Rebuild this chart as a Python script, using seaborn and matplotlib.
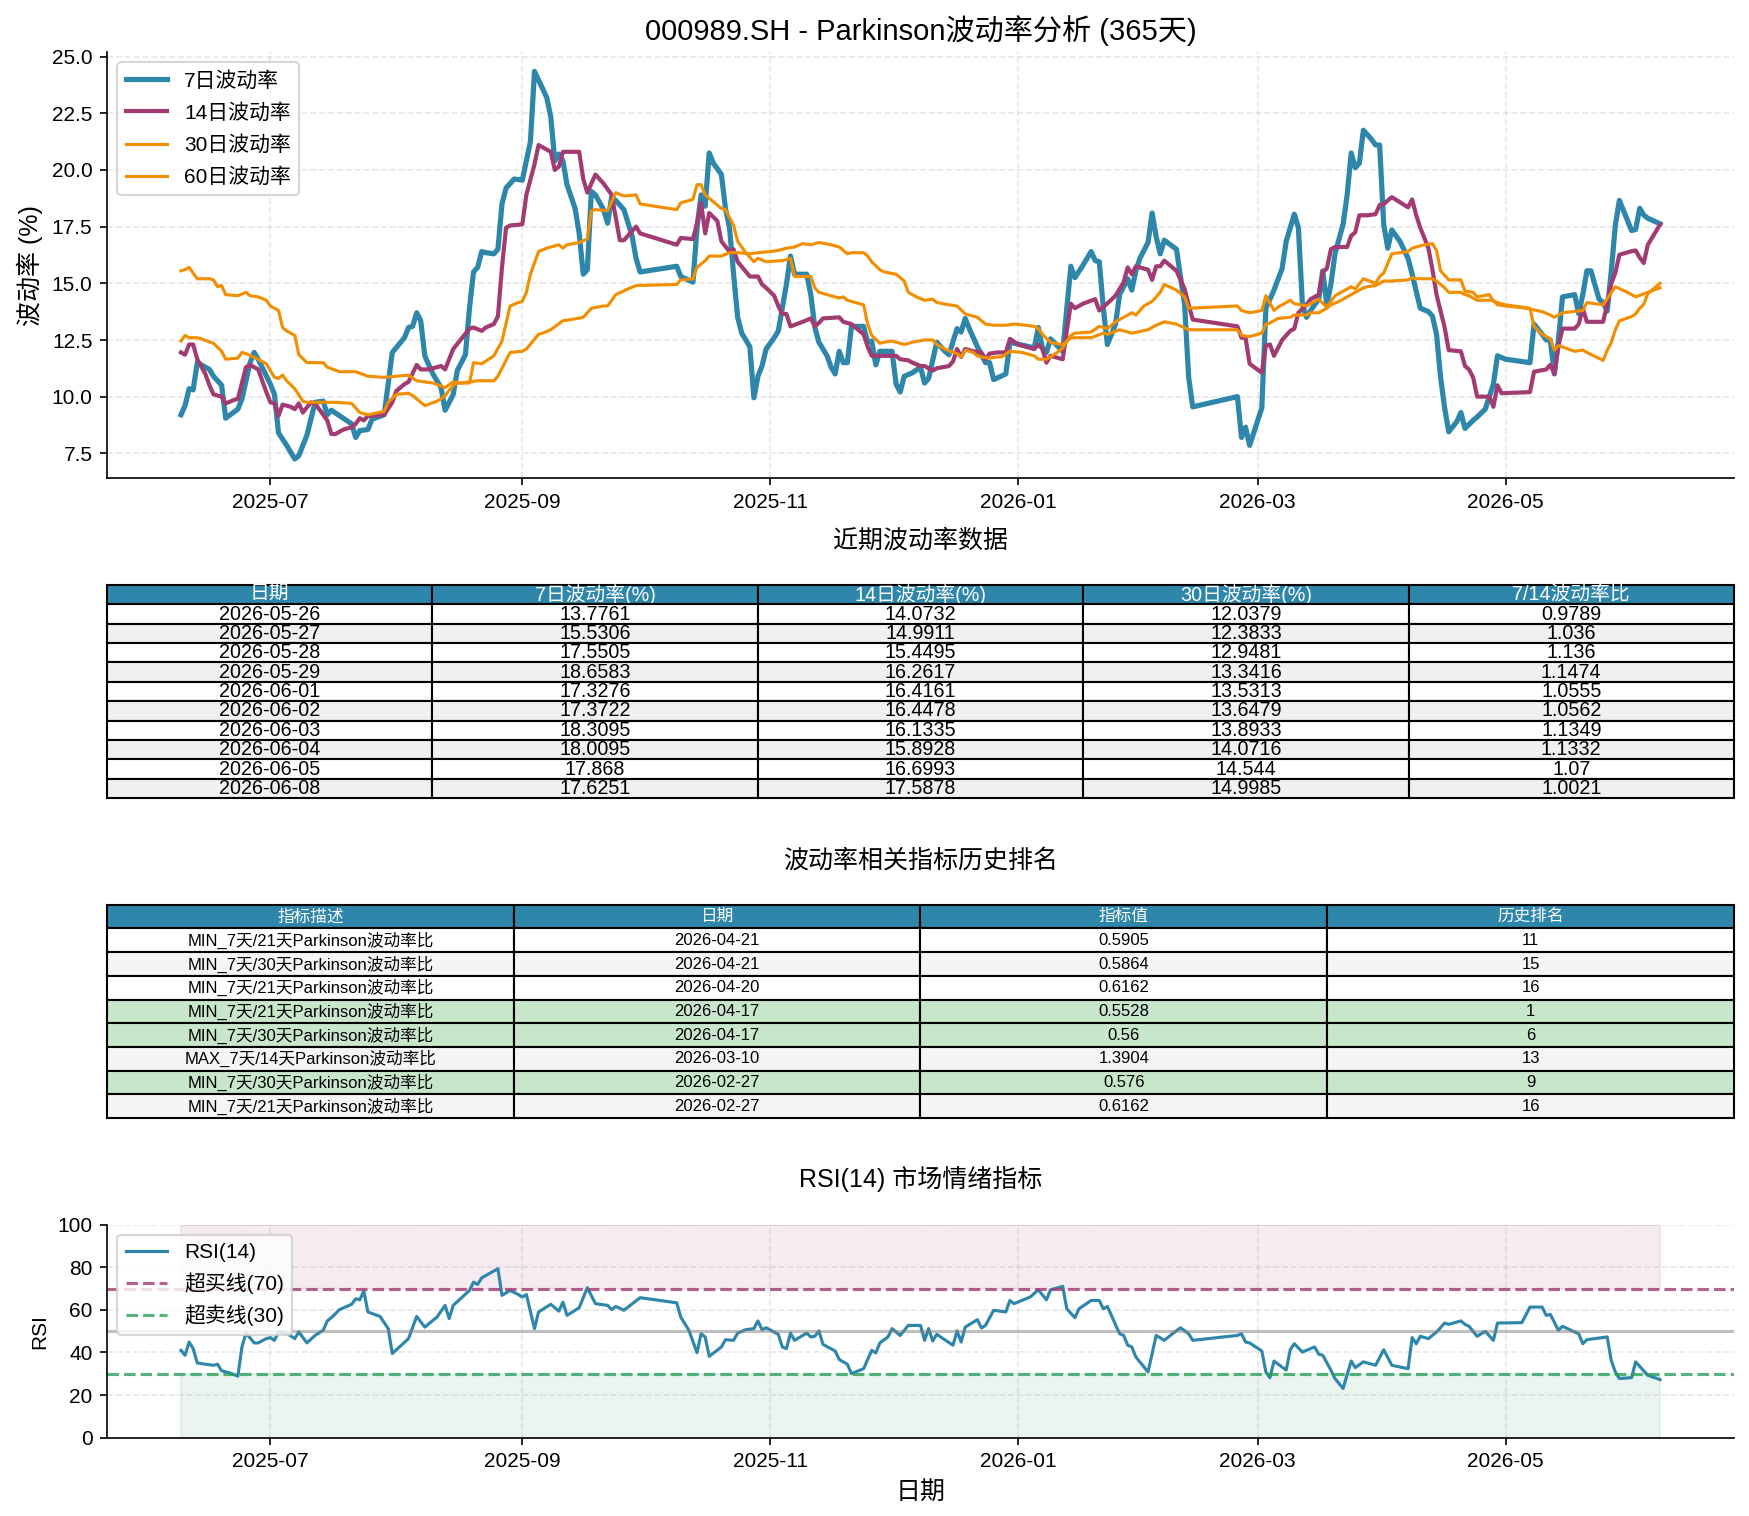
import matplotlib
matplotlib.use("Agg")
import matplotlib.pyplot as plt
import matplotlib.dates as mdates
import pandas as pd
import seaborn as sns

# ----- DATA -----
recent_dates = ["2026-05-26", "2026-05-27", "2026-05-28", "2026-05-29", "2026-06-01",
                "2026-06-02", "2026-06-03", "2026-06-04", "2026-06-05", "2026-06-08"]
recent_7 = [13.7761, 15.5306, 17.5505, 18.6583, 17.3276, 17.3722, 18.3095, 18.0095, 17.868, 17.6251]
recent_14 = [14.0732, 14.9911, 15.4495, 16.2617, 16.4161, 16.4478, 16.1335, 15.8928, 16.6993, 17.5878]
recent_30 = [12.0379, 12.3833, 12.9481, 13.3416, 13.5313, 13.6479, 13.8933, 14.0716, 14.544, 14.9985]
recent_ratio = [0.9789, 1.036, 1.136, 1.1474, 1.0555, 1.0562, 1.1349, 1.1332, 1.07, 1.0021]

vol7_hist = [
    ("2025-06-09", 9.2), ("2025-06-10", 9.6), ("2025-06-11", 10.35), ("2025-06-12", 10.3), ("2025-06-13", 11.5),
    ("2025-06-16", 11.2), ("2025-06-17", 10.9), ("2025-06-19", 10.5), ("2025-06-20", 9.05), ("2025-06-23", 9.45),
    ("2025-06-24", 9.9), ("2025-06-26", 11.5), ("2025-06-27", 11.95), ("2025-06-28", 11.65), ("2025-07-01", 10.55),
    ("2025-07-02", 10.1), ("2025-07-03", 8.4), ("2025-07-05", 7.85), ("2025-07-07", 7.25), ("2025-07-08", 7.4),
    ("2025-07-10", 8.3), ("2025-07-12", 9.75), ("2025-07-14", 9.8), ("2025-07-15", 9.2), ("2025-07-16", 9.4),
    ("2025-07-21", 8.8), ("2025-07-22", 8.2), ("2025-07-23", 8.5), ("2025-07-25", 8.55), ("2025-07-26", 9.0),
    ("2025-07-29", 9.2), ("2025-07-31", 11.95), ("2025-08-03", 12.6), ("2025-08-04", 13.05), ("2025-08-05", 13.1),
    ("2025-08-06", 13.7), ("2025-08-07", 13.35), ("2025-08-08", 11.8), ("2025-08-10", 11.0), ("2025-08-12", 10.4),
    ("2025-08-13", 9.4), ("2025-08-15", 10.1), ("2025-08-16", 11.15), ("2025-08-18", 11.85), ("2025-08-19", 13.9),
    ("2025-08-20", 15.5), ("2025-08-21", 15.7), ("2025-08-22", 16.4), ("2025-08-23", 16.35), ("2025-08-25", 16.3),
    ("2025-08-26", 16.5), ("2025-08-27", 18.5), ("2025-08-28", 19.2), ("2025-08-30", 19.6), ("2025-09-01", 19.55),
    ("2025-09-03", 21.25), ("2025-09-04", 24.35), ("2025-09-07", 23.2), ("2025-09-08", 22.35), ("2025-09-09", 20.4),
    ("2025-09-10", 20.7), ("2025-09-11", 20.4), ("2025-09-12", 19.35), ("2025-09-14", 18.3), ("2025-09-15", 17.2),
    ("2025-09-16", 15.4), ("2025-09-17", 15.6), ("2025-09-18", 19.05), ("2025-09-19", 18.9), ("2025-09-21", 18.25),
    ("2025-09-22", 17.65), ("2025-09-23", 18.8), ("2025-09-24", 18.65), ("2025-09-26", 18.25), ("2025-09-28", 17.1),
    ("2025-09-29", 16.1), ("2025-09-30", 15.5), ("2025-10-09", 15.75), ("2025-10-10", 15.3), ("2025-10-13", 15.05),
    ("2025-10-14", 17.45), ("2025-10-15", 18.9), ("2025-10-16", 18.4), ("2025-10-17", 20.75), ("2025-10-18", 20.3),
    ("2025-10-20", 19.8), ("2025-10-21", 18.3), ("2025-10-22", 17.45), ("2025-10-23", 15.4), ("2025-10-24", 13.5),
    ("2025-10-25", 12.8), ("2025-10-27", 12.2), ("2025-10-28", 9.95), ("2025-10-29", 10.9), ("2025-10-30", 11.35),
    ("2025-10-31", 12.1), ("2025-11-02", 12.6), ("2025-11-03", 12.9), ("2025-11-05", 14.95), ("2025-11-06", 16.2),
    ("2025-11-07", 15.4), ("2025-11-10", 15.4), ("2025-11-11", 14.5), ("2025-11-12", 13.05), ("2025-11-13", 12.4),
    ("2025-11-15", 11.8), ("2025-11-16", 11.3), ("2025-11-17", 11.0), ("2025-11-18", 12.0), ("2025-11-19", 11.5),
    ("2025-11-20", 11.5), ("2025-11-21", 13.1), ("2025-11-24", 13.1), ("2025-11-25", 12.4), ("2025-11-26", 12.45),
    ("2025-11-27", 11.4), ("2025-11-28", 12.0), ("2025-12-01", 12.0), ("2025-12-02", 10.55), ("2025-12-03", 10.2),
    ("2025-12-04", 10.9), ("2025-12-06", 11.05), ("2025-12-08", 11.3), ("2025-12-09", 10.6), ("2025-12-10", 10.8),
    ("2025-12-12", 12.4), ("2025-12-14", 12.0), ("2025-12-15", 11.85), ("2025-12-17", 13.0), ("2025-12-18", 12.85),
    ("2025-12-19", 13.45), ("2025-12-20", 13.0), ("2025-12-22", 12.2), ("2025-12-24", 11.5), ("2025-12-25", 11.5),
    ("2025-12-26", 10.75), ("2025-12-29", 11.0), ("2025-12-30", 12.4), ("2026-01-05", 12.15), ("2026-01-06", 13.05),
    ("2026-01-07", 12.15), ("2026-01-08", 11.95), ("2026-01-09", 12.55), ("2026-01-12", 12.0), ("2026-01-14", 15.75),
    ("2026-01-15", 15.25), ("2026-01-17", 15.8), ("2026-01-19", 16.4), ("2026-01-20", 16.0), ("2026-01-21", 15.95),
    ("2026-01-22", 13.9), ("2026-01-23", 12.3), ("2026-01-25", 13.2), ("2026-01-26", 14.5), ("2026-01-28", 15.2),
    ("2026-01-29", 14.7), ("2026-01-30", 15.55), ("2026-01-31", 16.1), ("2026-02-02", 16.8), ("2026-02-03", 18.1),
    ("2026-02-04", 17.05), ("2026-02-05", 16.3), ("2026-02-06", 16.9), ("2026-02-09", 16.5), ("2026-02-11", 14.05),
    ("2026-02-12", 10.85), ("2026-02-13", 9.55), ("2026-02-24", 10.0), ("2026-02-25", 8.2), ("2026-02-26", 8.65),
    ("2026-02-27", 7.85), ("2026-03-02", 9.5), ("2026-03-03", 13.9), ("2026-03-05", 14.7), ("2026-03-07", 15.65),
    ("2026-03-08", 16.85), ("2026-03-10", 18.05), ("2026-03-11", 17.45), ("2026-03-12", 14.05), ("2026-03-13", 13.5),
    ("2026-03-14", 13.8), ("2026-03-16", 14.3), ("2026-03-17", 15.55), ("2026-03-18", 14.05), ("2026-03-19", 14.95),
    ("2026-03-20", 16.3), ("2026-03-22", 17.6), ("2026-03-23", 18.9), ("2026-03-24", 20.75), ("2026-03-25", 20.1),
    ("2026-03-26", 20.3), ("2026-03-27", 21.75), ("2026-03-29", 21.35), ("2026-03-30", 21.1), ("2026-03-31", 21.1),
    ("2026-04-01", 17.6), ("2026-04-02", 16.55), ("2026-04-03", 17.35), ("2026-04-05", 16.85), ("2026-04-07", 16.1),
    ("2026-04-08", 15.4), ("2026-04-10", 13.9), ("2026-04-12", 13.75), ("2026-04-13", 13.55), ("2026-04-14", 12.75),
    ("2026-04-15", 10.85), ("2026-04-16", 9.5), ("2026-04-17", 8.45), ("2026-04-19", 8.9), ("2026-04-20", 9.3),
    ("2026-04-21", 8.6), ("2026-04-23", 8.95), ("2026-04-24", 9.1), ("2026-04-26", 9.45), ("2026-04-27", 10.0),
    ("2026-04-28", 10.55), ("2026-04-29", 11.8), ("2026-05-01", 11.65), ("2026-05-07", 11.5), ("2026-05-08", 13.2),
    ("2026-05-10", 12.75), ("2026-05-11", 12.5), ("2026-05-12", 12.5), ("2026-05-13", 11.0), ("2026-05-14", 12.5),
    ("2026-05-15", 14.4), ("2026-05-18", 14.5), ("2026-05-19", 13.65), ("2026-05-20", 14.5), ("2026-05-21", 15.55),
    ("2026-05-22", 15.55), ("2026-05-24", 14.3), ("2026-05-25", 14.15),
]

vol14_hist = [
    ("2025-06-09", 11.95), ("2025-06-10", 11.85), ("2025-06-11", 12.3), ("2025-06-12", 12.3), ("2025-06-13", 11.65),
    ("2025-06-15", 11.0), ("2025-06-16", 10.5), ("2025-06-17", 10.1), ("2025-06-19", 10.0), ("2025-06-20", 9.7),
    ("2025-06-22", 9.85), ("2025-06-23", 9.9), ("2025-06-24", 10.6), ("2025-06-25", 11.3), ("2025-06-26", 11.4),
    ("2025-06-28", 11.2), ("2025-06-29", 10.7), ("2025-06-30", 10.2), ("2025-07-01", 9.75), ("2025-07-02", 9.7),
    ("2025-07-03", 9.15), ("2025-07-04", 9.65), ("2025-07-06", 9.55), ("2025-07-07", 9.45), ("2025-07-08", 9.7),
    ("2025-07-09", 9.3), ("2025-07-11", 9.75), ("2025-07-12", 9.7), ("2025-07-13", 9.45), ("2025-07-15", 8.95),
    ("2025-07-16", 8.35), ("2025-07-17", 8.35), ("2025-07-19", 8.55), ("2025-07-21", 8.65), ("2025-07-22", 8.8),
    ("2025-07-23", 9.05), ("2025-07-24", 8.95), ("2025-07-25", 9.15), ("2025-07-29", 9.2), ("2025-07-31", 9.75),
    ("2025-08-01", 10.25), ("2025-08-03", 10.55), ("2025-08-04", 10.65), ("2025-08-06", 11.4), ("2025-08-07", 11.2),
    ("2025-08-09", 11.2), ("2025-08-11", 11.3), ("2025-08-12", 11.35), ("2025-08-13", 11.2), ("2025-08-15", 12.1),
    ("2025-08-17", 12.55), ("2025-08-19", 13.0), ("2025-08-20", 13.05), ("2025-08-22", 12.9), ("2025-08-23", 13.05),
    ("2025-08-25", 13.2), ("2025-08-26", 13.55), ("2025-08-27", 15.7), ("2025-08-28", 17.45), ("2025-08-29", 17.55),
    ("2025-09-01", 17.6), ("2025-09-02", 18.9), ("2025-09-04", 20.25), ("2025-09-05", 21.1), ("2025-09-08", 20.8),
    ("2025-09-09", 20.0), ("2025-09-10", 20.15), ("2025-09-11", 20.8), ("2025-09-13", 20.8), ("2025-09-15", 20.8),
    ("2025-09-16", 19.6), ("2025-09-17", 19.0), ("2025-09-19", 19.8), ("2025-09-21", 19.4), ("2025-09-22", 19.15),
    ("2025-09-23", 18.9), ("2025-09-25", 16.9), ("2025-09-26", 16.9), ("2025-09-28", 17.3), ("2025-09-29", 17.5),
    ("2025-09-30", 17.2), ("2025-10-09", 16.7), ("2025-10-10", 17.0), ("2025-10-13", 16.95), ("2025-10-14", 17.65),
    ("2025-10-15", 18.55), ("2025-10-16", 17.2), ("2025-10-17", 18.1), ("2025-10-19", 17.75), ("2025-10-20", 16.85),
    ("2025-10-22", 16.4), ("2025-10-23", 16.5), ("2025-10-24", 15.95), ("2025-10-27", 15.3), ("2025-10-29", 15.3),
    ("2025-10-30", 14.95), ("2025-10-31", 14.8), ("2025-11-02", 14.45), ("2025-11-03", 14.0), ("2025-11-04", 13.65),
    ("2025-11-05", 13.65), ("2025-11-06", 13.1), ("2025-11-09", 13.3), ("2025-11-11", 13.45), ("2025-11-12", 13.1),
    ("2025-11-13", 13.25), ("2025-11-14", 13.45), ("2025-11-18", 13.5), ("2025-11-19", 13.3), ("2025-11-20", 13.25),
    ("2025-11-21", 13.2), ("2025-11-24", 12.75), ("2025-11-25", 12.2), ("2025-11-26", 11.8), ("2025-11-28", 11.8),
    ("2025-12-02", 11.8), ("2025-12-03", 11.65), ("2025-12-05", 11.6), ("2025-12-06", 11.5), ("2025-12-08", 11.35),
    ("2025-12-09", 11.35), ("2025-12-11", 11.15), ("2025-12-12", 11.25), ("2025-12-15", 11.35), ("2025-12-16", 11.55),
    ("2025-12-17", 12.1), ("2025-12-18", 11.75), ("2025-12-19", 12.1), ("2025-12-21", 12.0), ("2025-12-23", 11.95),
    ("2025-12-24", 11.65), ("2025-12-25", 11.9), ("2025-12-27", 11.95), ("2025-12-29", 11.95), ("2025-12-30", 12.55),
    ("2026-01-01", 12.3), ("2026-01-05", 12.1), ("2026-01-06", 12.3), ("2026-01-07", 12.1), ("2026-01-08", 11.5),
    ("2026-01-09", 11.8), ("2026-01-12", 11.65), ("2026-01-13", 12.9), ("2026-01-14", 14.1), ("2026-01-15", 13.9),
    ("2026-01-17", 14.1), ("2026-01-20", 14.3), ("2026-01-21", 13.8), ("2026-01-22", 13.95), ("2026-01-25", 14.45),
    ("2026-01-27", 15.05), ("2026-01-28", 15.7), ("2026-01-29", 15.4), ("2026-01-30", 15.75), ("2026-02-02", 15.6),
    ("2026-02-03", 15.15), ("2026-02-04", 15.75), ("2026-02-05", 15.75), ("2026-02-06", 16.0), ("2026-02-09", 15.55),
    ("2026-02-11", 14.75), ("2026-02-12", 14.05), ("2026-02-13", 13.4), ("2026-02-24", 13.1), ("2026-02-25", 12.6),
    ("2026-02-26", 12.6), ("2026-02-27", 11.45), ("2026-03-02", 11.05), ("2026-03-03", 12.25), ("2026-03-04", 12.3),
    ("2026-03-05", 11.8), ("2026-03-07", 12.5), ("2026-03-09", 12.9), ("2026-03-10", 13.0), ("2026-03-11", 13.7),
    ("2026-03-13", 14.05), ("2026-03-14", 14.3), ("2026-03-16", 14.5), ("2026-03-17", 15.5), ("2026-03-18", 15.65),
    ("2026-03-19", 16.5), ("2026-03-20", 16.6), ("2026-03-23", 16.6), ("2026-03-24", 17.1), ("2026-03-25", 17.25),
    ("2026-03-26", 18.0), ("2026-03-28", 18.0), ("2026-03-30", 18.05), ("2026-03-31", 18.45), ("2026-04-01", 18.5),
    ("2026-04-03", 18.8), ("2026-04-07", 18.35), ("2026-04-08", 18.7), ("2026-04-09", 18.0), ("2026-04-10", 17.45),
    ("2026-04-12", 16.55), ("2026-04-13", 15.6), ("2026-04-14", 14.5), ("2026-04-16", 13.05), ("2026-04-17", 12.05),
    ("2026-04-20", 12.0), ("2026-04-21", 11.35), ("2026-04-22", 11.2), ("2026-04-23", 10.85), ("2026-04-24", 10.0),
    ("2026-04-27", 10.0), ("2026-04-28", 9.55), ("2026-04-29", 10.5), ("2026-04-30", 10.15), ("2026-05-07", 10.2),
    ("2026-05-08", 11.1), ("2026-05-11", 11.2), ("2026-05-12", 11.4), ("2026-05-13", 11.0), ("2026-05-14", 12.25),
    ("2026-05-15", 13.0), ("2026-05-18", 13.0), ("2026-05-19", 13.2), ("2026-05-20", 13.9), ("2026-05-21", 13.3),
    ("2026-05-22", 13.3), ("2026-05-25", 13.3),
]

vol30_hist = [
    ("2025-06-09", 12.45), ("2025-06-10", 12.7), ("2025-06-11", 12.6), ("2025-06-13", 12.6), ("2025-06-14", 12.55),
    ("2025-06-17", 12.35), ("2025-06-19", 12.0), ("2025-06-20", 11.65), ("2025-06-23", 11.7), ("2025-06-24", 11.95),
    ("2025-06-25", 11.9), ("2025-06-28", 11.65), ("2025-06-30", 11.45), ("2025-07-02", 10.85), ("2025-07-03", 10.8),
    ("2025-07-04", 10.95), ("2025-07-05", 10.7), ("2025-07-07", 10.35), ("2025-07-09", 9.8), ("2025-07-10", 9.75),
    ("2025-07-14", 9.75), ("2025-07-17", 9.75), ("2025-07-21", 9.7), ("2025-07-23", 9.3), ("2025-07-24", 9.25),
    ("2025-07-25", 9.2), ("2025-07-29", 9.35), ("2025-07-30", 9.75), ("2025-08-01", 10.1), ("2025-08-04", 10.15),
    ("2025-08-05", 10.05), ("2025-08-06", 9.9), ("2025-08-08", 9.6), ("2025-08-11", 9.8), ("2025-08-12", 9.9),
    ("2025-08-13", 10.05), ("2025-08-15", 10.5), ("2025-08-16", 10.6), ("2025-08-19", 10.6), ("2025-08-20", 11.5),
    ("2025-08-22", 11.45), ("2025-08-25", 11.8), ("2025-08-27", 12.45), ("2025-08-29", 14.0), ("2025-08-31", 14.15),
    ("2025-09-01", 14.2), ("2025-09-02", 14.6), ("2025-09-03", 15.4), ("2025-09-05", 16.4), ("2025-09-07", 16.55),
    ("2025-09-10", 16.7), ("2025-09-11", 16.55), ("2025-09-12", 16.7), ("2025-09-15", 16.8), ("2025-09-17", 16.95),
    ("2025-09-18", 18.2), ("2025-09-19", 18.25), ("2025-09-22", 18.2), ("2025-09-24", 19.0), ("2025-09-26", 18.85),
    ("2025-09-29", 18.9), ("2025-09-30", 18.5), ("2025-10-09", 18.25), ("2025-10-10", 18.55), ("2025-10-13", 18.7),
    ("2025-10-14", 19.35), ("2025-10-15", 19.35), ("2025-10-16", 18.9), ("2025-10-17", 18.75), ("2025-10-20", 18.3),
    ("2025-10-21", 18.25), ("2025-10-23", 17.55), ("2025-10-24", 16.85), ("2025-10-26", 16.35), ("2025-10-28", 15.95),
    ("2025-10-29", 16.1), ("2025-10-31", 15.95), ("2025-11-04", 16.0), ("2025-11-06", 16.1), ("2025-11-07", 15.3),
    ("2025-11-11", 15.3), ("2025-11-12", 14.8), ("2025-11-13", 14.6), ("2025-11-15", 14.5), ("2025-11-18", 14.35),
    ("2025-11-19", 14.4), ("2025-11-20", 14.25), ("2025-11-24", 14.05), ("2025-11-25", 13.2), ("2025-11-26", 12.7),
    ("2025-11-28", 12.35), ("2025-11-29", 12.4), ("2025-12-01", 12.45), ("2025-12-02", 12.4), ("2025-12-04", 12.3),
    ("2025-12-06", 12.4), ("2025-12-09", 12.5), ("2025-12-11", 12.5), ("2025-12-12", 12.3), ("2025-12-14", 12.1),
    ("2025-12-16", 11.95), ("2025-12-17", 11.9), ("2025-12-18", 11.75), ("2025-12-19", 12.05), ("2025-12-21", 11.95),
    ("2025-12-22", 11.8), ("2025-12-23", 11.75), ("2025-12-25", 11.7), ("2025-12-27", 11.75), ("2025-12-28", 11.75),
    ("2025-12-30", 12.0), ("2026-01-02", 11.95), ("2026-01-05", 11.8), ("2026-01-06", 11.65), ("2026-01-08", 11.65),
    ("2026-01-09", 11.75), ("2026-01-11", 12.0), ("2026-01-12", 12.15), ("2026-01-14", 12.7), ("2026-01-15", 12.8),
    ("2026-01-19", 12.85), ("2026-01-21", 13.1), ("2026-01-23", 13.0), ("2026-01-25", 13.3), ("2026-01-27", 13.5),
    ("2026-01-29", 13.7), ("2026-01-30", 13.6), ("2026-02-01", 14.0), ("2026-02-03", 14.2), ("2026-02-05", 14.6),
    ("2026-02-06", 14.95), ("2026-02-09", 14.7), ("2026-02-11", 14.4), ("2026-02-12", 13.9), ("2026-02-24", 14.0),
    ("2026-02-25", 13.8), ("2026-02-27", 13.7), ("2026-03-02", 13.8), ("2026-03-03", 14.45), ("2026-03-05", 13.8),
    ("2026-03-06", 13.95), ("2026-03-09", 14.25), ("2026-03-10", 14.1), ("2026-03-13", 14.0), ("2026-03-16", 14.3),
    ("2026-03-18", 13.95), ("2026-03-20", 14.45), ("2026-03-22", 14.65), ("2026-03-24", 14.85), ("2026-03-25", 14.75),
    ("2026-03-27", 15.2), ("2026-03-30", 15.0), ("2026-03-31", 15.3), ("2026-04-01", 15.45), ("2026-04-03", 16.3),
    ("2026-04-07", 16.4), ("2026-04-08", 16.55), ("2026-04-11", 16.7), ("2026-04-13", 16.75), ("2026-04-14", 16.45),
    ("2026-04-15", 15.55), ("2026-04-17", 15.15), ("2026-04-20", 15.15), ("2026-04-21", 14.65), ("2026-04-23", 14.6),
    ("2026-04-24", 14.4), ("2026-04-27", 14.5), ("2026-04-28", 14.2), ("2026-05-01", 14.05), ("2026-05-07", 13.9),
    ("2026-05-08", 13.1), ("2026-05-10", 12.75), ("2026-05-12", 12.55), ("2026-05-13", 12.05), ("2026-05-14", 12.25),
    ("2026-05-18", 12.0), ("2026-05-20", 12.05), ("2026-05-21", 11.95), ("2026-05-25", 11.6),
]

vol60 = [
    ("2025-06-09", 15.55), ("2025-06-10", 15.6), ("2025-06-11", 15.7), ("2025-06-13", 15.2), ("2025-06-16", 15.2),
    ("2025-06-17", 15.15), ("2025-06-18", 14.85), ("2025-06-19", 14.9), ("2025-06-20", 14.5), ("2025-06-23", 14.45),
    ("2025-06-25", 14.6), ("2025-06-26", 14.45), ("2025-06-28", 14.4), ("2025-06-30", 14.25), ("2025-07-01", 14.0),
    ("2025-07-03", 13.8), ("2025-07-04", 13.05), ("2025-07-05", 12.9), ("2025-07-07", 12.7), ("2025-07-08", 11.85),
    ("2025-07-10", 11.5), ("2025-07-14", 11.5), ("2025-07-15", 11.3), ("2025-07-18", 11.1), ("2025-07-22", 11.1),
    ("2025-07-25", 10.9), ("2025-07-29", 10.85), ("2025-08-01", 10.9), ("2025-08-04", 10.95), ("2025-08-06", 10.7),
    ("2025-08-10", 10.6), ("2025-08-13", 10.4), ("2025-08-15", 10.65), ("2025-08-17", 10.6), ("2025-08-19", 10.65),
    ("2025-08-21", 10.7), ("2025-08-25", 10.7), ("2025-08-26", 10.9), ("2025-08-29", 11.95), ("2025-09-01", 12.0),
    ("2025-09-02", 12.1), ("2025-09-05", 12.75), ("2025-09-06", 12.8), ("2025-09-08", 12.95), ("2025-09-11", 13.35),
    ("2025-09-13", 13.4), ("2025-09-16", 13.5), ("2025-09-18", 13.9), ("2025-09-21", 14.0), ("2025-09-22", 14.0),
    ("2025-09-24", 14.5), ("2025-09-27", 14.75), ("2025-09-29", 14.9), ("2025-10-09", 14.95), ("2025-10-10", 15.15),
    ("2025-10-13", 15.2), ("2025-10-14", 15.7), ("2025-10-16", 16.0), ("2025-10-17", 16.2), ("2025-10-20", 16.2),
    ("2025-10-22", 16.35), ("2025-10-24", 16.35), ("2025-10-27", 16.3), ("2025-10-29", 16.35), ("2025-11-01", 16.4),
    ("2025-11-03", 16.45), ("2025-11-05", 16.55), ("2025-11-07", 16.6), ("2025-11-09", 16.75), ("2025-11-11", 16.7),
    ("2025-11-13", 16.8), ("2025-11-16", 16.7), ("2025-11-18", 16.6), ("2025-11-20", 16.3), ("2025-11-21", 16.35),
    ("2025-11-24", 16.35), ("2025-11-25", 16.2), ("2025-11-26", 15.95), ("2025-11-28", 15.6), ("2025-11-29", 15.5),
    ("2025-12-02", 15.4), ("2025-12-04", 15.1), ("2025-12-05", 14.6), ("2025-12-07", 14.4), ("2025-12-09", 14.25),
    ("2025-12-11", 14.3), ("2025-12-12", 14.15), ("2025-12-15", 14.05), ("2025-12-17", 14.0), ("2025-12-19", 13.65),
    ("2025-12-20", 13.6), ("2025-12-22", 13.5), ("2025-12-24", 13.2), ("2025-12-26", 13.15), ("2025-12-29", 13.15),
    ("2025-12-31", 13.2), ("2026-01-03", 13.15), ("2026-01-05", 13.1), ("2026-01-06", 13.0), ("2026-01-07", 12.75),
    ("2026-01-09", 12.4), ("2026-01-10", 12.35), ("2026-01-12", 12.3), ("2026-01-14", 12.6), ("2026-01-19", 12.6),
    ("2026-01-22", 12.8), ("2026-01-23", 12.75), ("2026-01-26", 12.95), ("2026-01-29", 12.8), ("2026-02-02", 12.95),
    ("2026-02-04", 13.15), ("2026-02-06", 13.3), ("2026-02-09", 13.2), ("2026-02-12", 12.95), ("2026-02-24", 12.95),
    ("2026-02-25", 12.7), ("2026-02-27", 12.65), ("2026-03-02", 12.8), ("2026-03-03", 13.2), ("2026-03-04", 13.25),
    ("2026-03-06", 13.45), ("2026-03-09", 13.5), ("2026-03-10", 13.6), ("2026-03-13", 13.6), ("2026-03-14", 13.7),
    ("2026-03-16", 13.7), ("2026-03-18", 13.9), ("2026-03-19", 14.05), ("2026-03-21", 14.2), ("2026-03-23", 14.4),
    ("2026-03-24", 14.5), ("2026-03-25", 14.6), ("2026-03-27", 14.8), ("2026-03-28", 14.85), ("2026-03-30", 14.9),
    ("2026-04-01", 15.1), ("2026-04-03", 15.1), ("2026-04-07", 15.15), ("2026-04-08", 15.25), ("2026-04-09", 15.2),
    ("2026-04-13", 15.2), ("2026-04-14", 15.1), ("2026-04-16", 14.8), ("2026-04-17", 14.6), ("2026-04-20", 14.6),
    ("2026-04-21", 14.5), ("2026-04-22", 14.45), ("2026-04-24", 14.25), ("2026-04-28", 14.25), ("2026-04-29", 14.05),
    ("2026-05-01", 14.0), ("2026-05-06", 13.9), ("2026-05-10", 13.75), ("2026-05-12", 13.6), ("2026-05-13", 13.5),
    ("2026-05-15", 13.7), ("2026-05-20", 13.8), ("2026-05-21", 14.15), ("2026-05-25", 14.05), ("2026-05-28", 14.85),
    ("2026-05-31", 14.6), ("2026-06-02", 14.4), ("2026-06-05", 14.6), ("2026-06-08", 14.8),
]

rsi14 = [
    ("2025-06-09", 41.0), ("2025-06-10", 38.7), ("2025-06-11", 44.9), ("2025-06-12", 41.8), ("2025-06-13", 35.1),
    ("2025-06-15", 34.5), ("2025-06-17", 34.0), ("2025-06-18", 34.5), ("2025-06-19", 31.4), ("2025-06-21", 30.4),
    ("2025-06-23", 28.9), ("2025-06-24", 42.6), ("2025-06-25", 49.1), ("2025-06-27", 44.5), ("2025-06-28", 44.5),
    ("2025-06-30", 46.5), ("2025-07-01", 47.0), ("2025-07-02", 45.7), ("2025-07-03", 49.6), ("2025-07-05", 49.1),
    ("2025-07-07", 46.5), ("2025-07-08", 49.6), ("2025-07-10", 44.5), ("2025-07-12", 48.0), ("2025-07-14", 50.4),
    ("2025-07-15", 54.8), ("2025-07-16", 56.3), ("2025-07-18", 60.1), ("2025-07-21", 62.6), ("2025-07-22", 65.2),
    ("2025-07-23", 64.7), ("2025-07-24", 68.8), ("2025-07-25", 59.0), ("2025-07-28", 56.9), ("2025-07-30", 51.2),
    ("2025-07-31", 39.5), ("2025-08-04", 46.5), ("2025-08-06", 56.9), ("2025-08-08", 51.9), ("2025-08-11", 56.6),
    ("2025-08-13", 62.1), ("2025-08-14", 55.9), ("2025-08-15", 62.1), ("2025-08-19", 69.1), ("2025-08-20", 73.0),
    ("2025-08-21", 71.9), ("2025-08-22", 75.0), ("2025-08-26", 79.3), ("2025-08-27", 66.8), ("2025-08-29", 69.1),
    ("2025-08-31", 67.2), ("2025-09-01", 66.0), ("2025-09-02", 67.2), ("2025-09-04", 51.2), ("2025-09-05", 59.0),
    ("2025-09-08", 62.6), ("2025-09-10", 59.4), ("2025-09-11", 63.6), ("2025-09-12", 57.4), ("2025-09-15", 61.0),
    ("2025-09-17", 70.4), ("2025-09-19", 62.9), ("2025-09-22", 62.1), ("2025-09-23", 60.1), ("2025-09-24", 61.6),
    ("2025-09-26", 59.8), ("2025-09-30", 65.7), ("2025-10-09", 63.3), ("2025-10-10", 56.6), ("2025-10-12", 50.4),
    ("2025-10-14", 39.9), ("2025-10-15", 48.8), ("2025-10-16", 47.3), ("2025-10-17", 38.2), ("2025-10-20", 42.6),
    ("2025-10-21", 46.0), ("2025-10-23", 45.7), ("2025-10-24", 49.1), ("2025-10-26", 50.7), ("2025-10-28", 51.2),
    ("2025-10-29", 54.8), ("2025-10-30", 50.7), ("2025-10-31", 51.6), ("2025-11-03", 48.5), ("2025-11-04", 42.6),
    ("2025-11-05", 41.8), ("2025-11-06", 49.1), ("2025-11-07", 45.7), ("2025-11-10", 49.1), ("2025-11-11", 47.3),
    ("2025-11-12", 47.6), ("2025-11-13", 50.1), ("2025-11-14", 43.8), ("2025-11-17", 40.7), ("2025-11-18", 36.7),
    ("2025-11-20", 34.5), ("2025-11-21", 30.1), ("2025-11-24", 32.4), ("2025-11-26", 41.0), ("2025-11-27", 39.8),
    ("2025-11-28", 44.5), ("2025-11-30", 47.3), ("2025-12-01", 51.2), ("2025-12-03", 48.0), ("2025-12-05", 52.7),
    ("2025-12-08", 52.7), ("2025-12-09", 45.7), ("2025-12-10", 51.2), ("2025-12-11", 45.4), ("2025-12-12", 48.5),
    ("2025-12-16", 43.4), ("2025-12-17", 50.1), ("2025-12-18", 44.9), ("2025-12-19", 51.9), ("2025-12-22", 55.4),
    ("2025-12-23", 51.5), ("2025-12-24", 52.7), ("2025-12-26", 59.8), ("2025-12-29", 59.0), ("2025-12-30", 64.4),
    ("2025-12-31", 62.9), ("2026-01-04", 66.0), ("2026-01-06", 69.4), ("2026-01-08", 64.7), ("2026-01-09", 69.4),
    ("2026-01-12", 71.0), ("2026-01-13", 60.5), ("2026-01-15", 56.3), ("2026-01-16", 60.5), ("2026-01-19", 64.4),
    ("2026-01-21", 64.4), ("2026-01-22", 60.5), ("2026-01-23", 61.6), ("2026-01-26", 48.8), ("2026-01-27", 48.0),
    ("2026-01-28", 43.4), ("2026-01-29", 42.6), ("2026-01-30", 37.9), ("2026-02-02", 30.9), ("2026-02-04", 48.0),
    ("2026-02-06", 45.7), ("2026-02-08", 48.8), ("2026-02-10", 51.6), ("2026-02-12", 48.8), ("2026-02-13", 45.7),
    ("2026-02-24", 48.0), ("2026-02-25", 48.8), ("2026-02-26", 44.9), ("2026-02-27", 44.5), ("2026-03-02", 40.7),
    ("2026-03-03", 30.9), ("2026-03-04", 28.2), ("2026-03-05", 36.0), ("2026-03-08", 31.7), ("2026-03-09", 41.3),
    ("2026-03-10", 44.1), ("2026-03-12", 40.2), ("2026-03-15", 42.6), ("2026-03-16", 39.2), ("2026-03-17", 38.7),
    ("2026-03-19", 31.7), ("2026-03-20", 27.8), ("2026-03-22", 23.1), ("2026-03-24", 36.0), ("2026-03-25", 32.9),
    ("2026-03-27", 35.6), ("2026-03-30", 34.0), ("2026-04-01", 41.3), ("2026-04-03", 34.0), ("2026-04-07", 32.4),
    ("2026-04-08", 47.0), ("2026-04-09", 44.1), ("2026-04-10", 47.6), ("2026-04-12", 46.5), ("2026-04-14", 49.6),
    ("2026-04-16", 53.8), ("2026-04-17", 53.2), ("2026-04-19", 54.3), ("2026-04-20", 54.8), ("2026-04-21", 53.2),
    ("2026-04-22", 52.3), ("2026-04-24", 47.6), ("2026-04-25", 48.8), ("2026-04-26", 49.9), ("2026-04-28", 45.7),
    ("2026-04-29", 53.8), ("2026-05-05", 54.0), ("2026-05-07", 61.3), ("2026-05-10", 61.3), ("2026-05-11", 57.4),
    ("2026-05-12", 57.9), ("2026-05-14", 50.4), ("2026-05-15", 52.3), ("2026-05-18", 49.6), ("2026-05-19", 48.8),
    ("2026-05-20", 44.1), ("2026-05-21", 46.0), ("2026-05-23", 46.5), ("2026-05-26", 47.3), ("2026-05-27", 36.3),
    ("2026-05-28", 30.9), ("2026-05-29", 27.8), ("2026-06-01", 28.2), ("2026-06-02", 35.6), ("2026-06-04", 31.4),
    ("2026-06-05", 29.3), ("2026-06-08", 27.3),
]

table1_headers = ["日期", "7日波动率(%)", "14日波动率(%)", "30日波动率(%)", "7/14波动率比"]

table2_headers = ["指标描述", "日期", "指标值", "历史排名"]
rank_desc = ["MIN_7天/21天Parkinson波动率比", "MIN_7天/30天Parkinson波动率比", "MIN_7天/21天Parkinson波动率比",
             "MIN_7天/21天Parkinson波动率比", "MIN_7天/30天Parkinson波动率比", "MAX_7天/14天Parkinson波动率比",
             "MIN_7天/30天Parkinson波动率比", "MIN_7天/21天Parkinson波动率比"]
rank_dates = ["2026-04-21", "2026-04-21", "2026-04-20", "2026-04-17", "2026-04-17", "2026-03-10",
              "2026-02-27", "2026-02-27"]
rank_values = [0.5905, 0.5864, 0.6162, 0.5528, 0.56, 1.3904, 0.576, 0.6162]
rank_pos = [11, 15, 16, 1, 6, 13, 9, 16]

# ----- STYLE -----
BLUE = "#2E86AB"
PURPLE = "#A23B72"
ORANGE = "#F18F01"
GREEN = "#2CA05A"

# Latin glyphs from an Arial-like face, CJK glyphs fall back to Noto
plt.rcParams["font.family"] = ["Liberation Sans", "Noto Sans CJK SC", "DejaVu Sans"]
plt.rcParams["axes.unicode_minus"] = False


def to_frame(pairs):
    df = pd.DataFrame(pairs, columns=["date", "value"])
    df["date"] = pd.to_datetime(df["date"])
    return df


df7 = to_frame(vol7_hist + list(zip(recent_dates, recent_7)))
df14 = to_frame(vol14_hist + list(zip(recent_dates, recent_14)))
df30 = to_frame(vol30_hist + list(zip(recent_dates, recent_30)))
df60 = to_frame(vol60)
dfr = to_frame(rsi14)

fig = plt.figure(figsize=(11.66, 10.107), dpi=150)
gs = fig.add_gridspec(4, 1, height_ratios=[2, 1, 1, 1], hspace=0.4,
                      left=0.0612, right=0.9914, top=0.9657, bottom=0.0516)
ax1 = fig.add_subplot(gs[0])
ax2 = fig.add_subplot(gs[1])
ax3 = fig.add_subplot(gs[2])
ax4 = fig.add_subplot(gs[3])

# ----- VOLATILITY LINES -----
sns.lineplot(data=df7, x="date", y="value", ax=ax1, color=BLUE, linewidth=2.5, label="7日波动率")
sns.lineplot(data=df14, x="date", y="value", ax=ax1, color=PURPLE, linewidth=2.0, label="14日波动率")
sns.lineplot(data=df30, x="date", y="value", ax=ax1, color=ORANGE, linewidth=1.5, label="30日波动率")
sns.lineplot(data=df60, x="date", y="value", ax=ax1, color=ORANGE, linewidth=1.5, label="60日波动率")
ax1.set_title("000989.SH - Parkinson波动率分析 (365天)", fontsize=14)
ax1.set_ylabel("波动率 (%)", fontsize=12)
ax1.set_xlabel("")
ax1.legend(loc="upper left", fontsize=10, labelspacing=0.6)

for ax in (ax1, ax4):
    ax.grid(True, linestyle="--", alpha=0.3)
    ax.spines["top"].set_visible(False)
    ax.spines["right"].set_visible(False)
    ax.xaxis.set_major_locator(mdates.MonthLocator(bymonth=[1, 3, 5, 7, 9, 11]))
    ax.xaxis.set_major_formatter(mdates.DateFormatter("%Y-%m"))

# ----- TABLE 1: RECENT DATA -----
ax2.axis("off")
ax2.set_title("近期波动率数据", fontsize=12, pad=18)
rows1 = [[d, str(a), str(b), str(c), str(r)]
         for d, a, b, c, r in zip(recent_dates, recent_7, recent_14, recent_30, recent_ratio)]
t1 = ax2.table(cellText=rows1, colLabels=table1_headers, cellLoc="center", bbox=[0, 0, 1, 1])
t1.auto_set_font_size(False)
t1.set_fontsize(9.5)
for (r, c), cell in t1.get_celld().items():
    if r == 0:
        cell.set_facecolor(BLUE)
        cell.set_text_props(color="white")
    elif r % 2 == 0:
        cell.set_facecolor("#F0F0F0")

# ----- TABLE 2: HISTORY RANKING -----
ax3.axis("off")
ax3.set_title("波动率相关指标历史排名", fontsize=12, pad=18)
rows2 = [[a, b, str(v), str(p)] for a, b, v, p in zip(rank_desc, rank_dates, rank_values, rank_pos)]
t2 = ax3.table(cellText=rows2, colLabels=table2_headers, cellLoc="center", bbox=[0, 0, 1, 1])
t2.auto_set_font_size(False)
t2.set_fontsize(8)
for (r, c), cell in t2.get_celld().items():
    if r == 0:
        cell.set_facecolor(BLUE)
        cell.set_text_props(color="white")
    elif rank_pos[r - 1] <= 10:
        cell.set_facecolor("#C8E6C9")
    elif r % 2 == 0:
        cell.set_facecolor("#F5F5F5")

# ----- RSI -----
sns.lineplot(data=dfr, x="date", y="value", ax=ax4, color=BLUE, linewidth=1.5, label="RSI(14)")
ax4.axhline(70, color=PURPLE, linestyle="--", linewidth=1.5, alpha=0.8, label="超买线(70)")
ax4.axhline(30, color=GREEN, linestyle="--", linewidth=1.5, alpha=0.8, label="超卖线(30)")
ax4.axhline(50, color="gray", linewidth=1.5, alpha=0.5)
ax4.fill_between(dfr["date"], 70, 100, color=PURPLE, alpha=0.1)
ax4.fill_between(dfr["date"], 0, 30, color=GREEN, alpha=0.1)
ax4.set_ylim(0, 100)
ax4.set_title("RSI(14) 市场情绪指标", fontsize=12, pad=18)
ax4.set_ylabel("RSI", fontsize=10)
ax4.set_xlabel("日期", fontsize=12)
ax4.legend(loc="upper left", fontsize=10)

fig.savefig("out.png", dpi=150)
